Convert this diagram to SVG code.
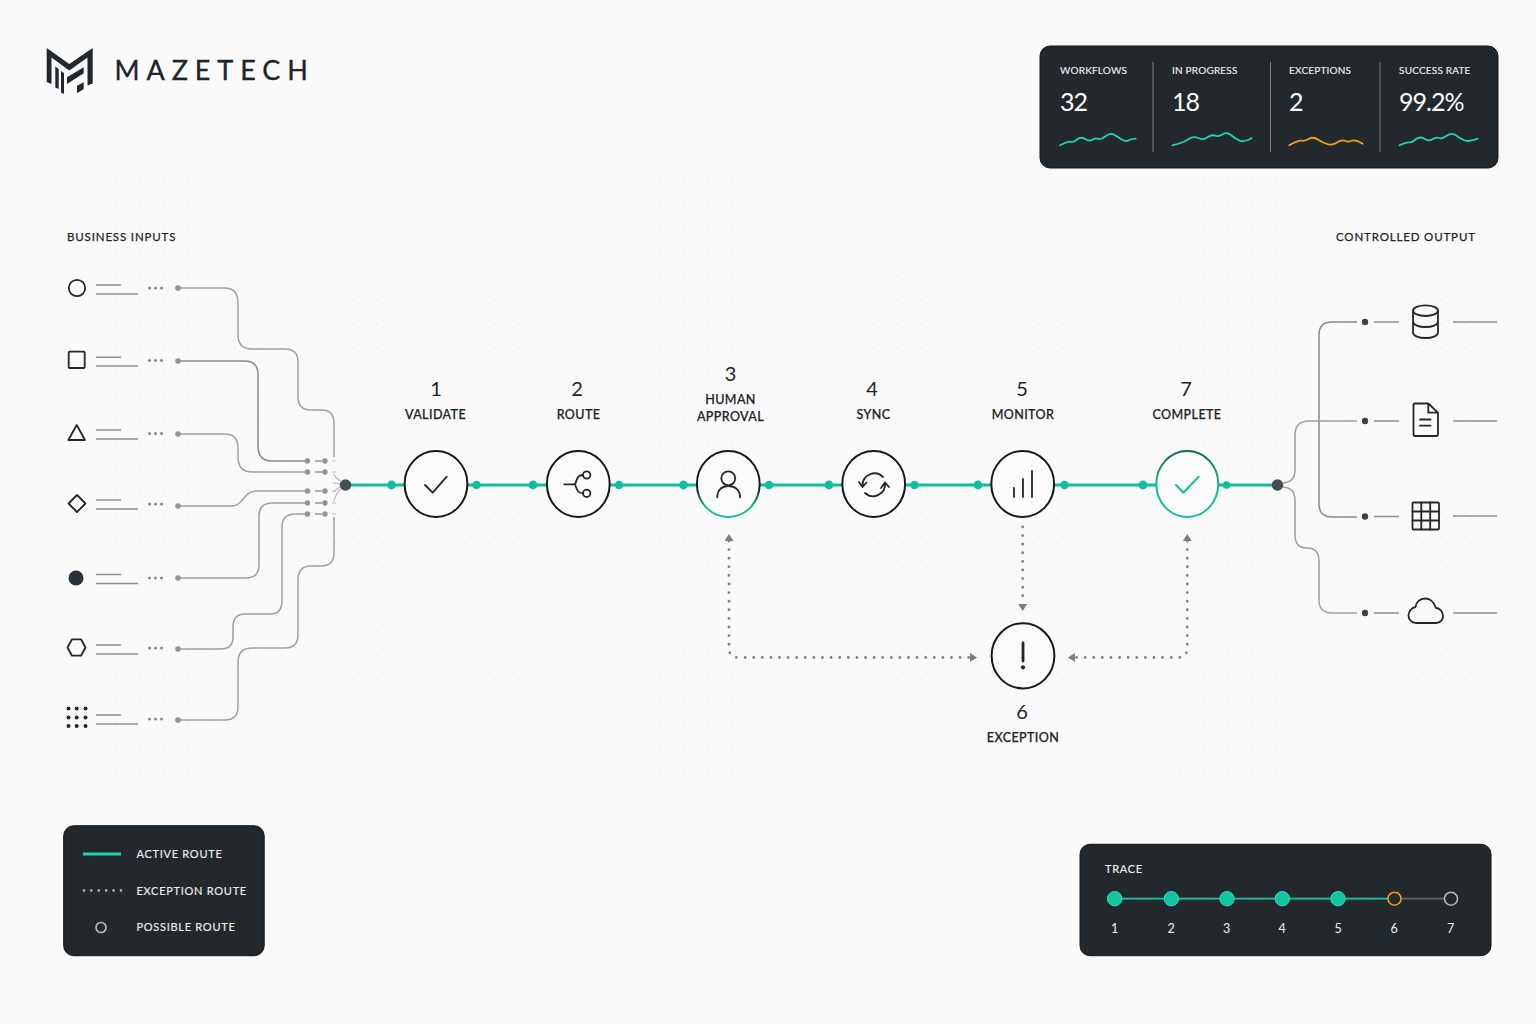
<svg xmlns="http://www.w3.org/2000/svg" width="1536" height="1024" viewBox="0 0 1536 1024">
<defs>
<style>
text{font-family:"Lato","Liberation Sans",sans-serif;fill:#1f2429}
.lab{font-size:12.5px;font-weight:500;letter-spacing:.4px;text-anchor:middle;stroke:#1f2429;stroke-width:.25px}
.num{font-size:20px;text-anchor:middle}
.head{font-size:11.5px;letter-spacing:.85px;stroke:#1f2429;stroke-width:.25px}
.pl{font-size:10px;fill:#eceeef;letter-spacing:.2px;stroke:#eceeef;stroke-width:.15px}
.pv{font-size:25px;fill:#fff;letter-spacing:-1px}
.ll{font-size:11px;fill:#eceeef;letter-spacing:.72px;stroke:#eceeef;stroke-width:.15px}
.tn{font-size:12.5px;fill:#f0f1f1;text-anchor:middle}
.panel{fill:#23282c;stroke:#14171a;stroke-width:1}
.div{stroke:#7c8084;stroke-width:1}
.spark{fill:none;stroke:#1fd4b4;stroke-width:1.8;stroke-linecap:round;stroke-linejoin:round}
.route{fill:none;stroke:#a0a0a0;stroke-width:1.5}
.rdark{fill:none;stroke:#8a8a8a;stroke-width:1.5}
.stub{stroke:#999;stroke-width:1.3}
.faint{fill:none;stroke:#bcbcbc;stroke-width:1.2}
.rd{fill:#949494}
.od{fill:#3a4047}
.ol{stroke:#8e8e8e;stroke-width:1.5}
.tl{stroke:#8e8e8e;stroke-width:1.5}
.tiny{fill:#8a8a8a}
.active{stroke:#0fbf9c;stroke-width:3;fill:none}
.ad{fill:#0fbf9c}
.exc{fill:none;stroke:#858585;stroke-width:2.9;stroke-linecap:round;stroke-dasharray:0 8.6}
.nc{fill:#fbfbfb;stroke:#15181b;stroke-width:2}
.ic{fill:none;stroke:#23272b;stroke-width:1.8;stroke-linecap:round;stroke-linejoin:round}
.shape{fill:none;stroke:#22272c;stroke-width:1.8;stroke-linejoin:round}
.td{fill:#13c4a2;stroke:#2fe0c0;stroke-width:1}
</style>
<pattern id="grid" x="68.5" y="181.4" width="23.65" height="23.65" patternUnits="userSpaceOnUse"><circle cx="0.8" cy="0.8" r="0.8" fill="#e6e6e6"/></pattern>
<marker id="arr" viewBox="0 0 7 9" refX="0" refY="4.5" markerUnits="userSpaceOnUse" markerWidth="7" markerHeight="9" orient="auto-start-reverse"><path d="M0 0L7 4.5L0 9Z" fill="#7d7d7d"/></marker>
<linearGradient id="g3" x1="0" y1="0" x2="0" y2="1"><stop offset="0.55" stop-color="#15181b"/><stop offset="0.85" stop-color="#12bf9c"/></linearGradient>
<linearGradient id="g7" x1="0" y1="0" x2="0" y2="1"><stop offset="0" stop-color="#15664f"/><stop offset="0.55" stop-color="#10bf9b"/></linearGradient>
</defs>
<rect width="1536" height="1024" fill="#fafafa"/>
<rect x="66" y="180" width="1420" height="610" fill="url(#grid)"/>

<g id="logo">
<path fill="#23282e" d="M46.7 48L69.3 64L92.7 48V83.5L87.5 85.5V57.5L69.3 70.5L51.5 57.5V84L46.7 82Z"/>
<path fill="#23282e" d="M55.3 66.5L58.7 69V89L55.3 87.5ZM61 71L64 73V94L61 92.5ZM67 77.3L83.7 67.3V73.3L67 84ZM77 85.7L83.7 82.3V89L77 93.3Z"/>
<text x="114.5" y="80" style="font-size:27px;letter-spacing:6.9px;stroke:#1f2429;stroke-width:.35px">MAZETECH</text>
</g>

<g id="stats">
<rect class="panel" x="1040" y="46" width="458" height="122" rx="10"/>
<line class="div" x1="1153" y1="62" x2="1153" y2="152"/>
<line class="div" x1="1270.5" y1="62" x2="1270.5" y2="152"/>
<line class="div" x1="1380" y1="62" x2="1380" y2="152"/>
<text class="pl" x="1060" y="73.7">WORKFLOWS</text>
<text class="pl" x="1172" y="73.7">IN PROGRESS</text>
<text class="pl" x="1289" y="73.7">EXCEPTIONS</text>
<text class="pl" x="1399" y="73.7">SUCCESS RATE</text>
<text class="pv" x="1060" y="111">32</text>
<text class="pv" x="1172" y="111">18</text>
<text class="pv" x="1289" y="111">2</text>
<text class="pv" x="1399" y="111">99.2%</text>
<path class="spark" d="M1060 145.3Q1068.3 140.7 1070.8 141.7Q1073.3 142.7 1077 139.5Q1080.7 136.3 1085 139Q1089.3 141.7 1092.5 139.7Q1095.7 137.7 1098.3 138.9Q1101 140 1105.5 136.2Q1110 132.3 1114.2 134.8Q1118.3 137.3 1122.2 139.7Q1126 142 1128.9 140.3Q1131.7 138.7 1135.7 138.7"/>
<path class="spark" d="M1172.3 145.3Q1183.3 142.7 1188.3 139.2Q1193.3 135.7 1198.3 138Q1203.3 140.3 1207.5 137.3Q1211.7 134.3 1215.2 135.7Q1218.7 137 1222.7 134.3Q1226.7 131.7 1230.8 135Q1235 138.3 1239.2 140.5Q1243.3 142.7 1251.7 138.3"/>
<path class="spark" style="stroke:#f0a01e" d="M1289.3 145.3Q1298.3 140 1301.7 140.7Q1305 141.3 1309.2 138.8Q1313.3 136.3 1318.3 139.8Q1323.3 143.3 1328.3 144.3Q1333.3 145.3 1337.5 142.3Q1341.7 139.3 1345 140.8Q1348.3 142.3 1351.7 140.8Q1355 139.3 1362.7 143.7"/>
<path class="spark" d="M1399.3 145.3Q1406.7 142 1409.2 142.3Q1411.7 142.7 1415.8 139.3Q1420 136 1424.2 138.8Q1428.3 141.7 1432.2 139.2Q1436 136.7 1438.8 138Q1441.7 139.3 1446.7 135.8Q1451.7 132.3 1455.8 135.3Q1460 138.3 1464.2 140.3Q1468.3 142.3 1477.7 138.7"/>
</g>

<text class="head" x="67" y="240.5">BUSINESS INPUTS</text>
<text class="head" x="1336" y="240.5">CONTROLLED OUTPUT</text>

<g id="connectors">
<g id="input-routes">
<path class="route" d="M178 288H225Q238 288 238 303V335Q238 349 252 349H285Q298 349 298 362V397Q298 410 311 410H322Q334 410 334 423V457"/>
<path class="rdark" d="M178 361H245Q258 361 258 375V446Q258 461 272 461H307"/>
<path class="route" d="M178 434H225Q238 434 238 448V457Q238 472 252 472H307"/>
<path class="route" d="M178 506H232C243 506 244 491 256 491H307"/>
<path class="route" d="M178 578H246Q259 578 259 565V516Q259 503 272 503H307"/>
<path class="route" d="M178 649H221Q233 649 233 637V627Q233 614 245 614H270Q282 614 282 601V527Q282 514 295 514H307"/>
<path class="route" d="M178 720H225Q238 720 238 707V662Q238 648 252 648H285Q298 648 298 635V580Q298 566 311 566H321Q334 566 334 553V517"/>
<path class="faint" d="M334 474Q335 478 341 481M333 483Q337 483 340 484M333 492Q337 489 340 487M334 501Q336 493 341 489"/>
</g>
<g id="stubs">
<path class="stub" d="M315 461H322M315 472H322M315 491H322M315 503H322M315 514H322"/>
<path class="faint" d="M332 461H336M332 472H336M332 491H336M332 503H336M332 514H336"/>
</g>
<g class="rd">
<circle cx="178" cy="288" r="2.8"/><circle cx="178" cy="361" r="2.8"/><circle cx="178" cy="434" r="2.8"/><circle cx="178" cy="506" r="2.8"/><circle cx="178" cy="578" r="2.8"/><circle cx="178" cy="649" r="2.8"/><circle cx="178" cy="720" r="2.8"/>
<circle cx="307.5" cy="461" r="2.7"/><circle cx="307.5" cy="472" r="2.7"/><circle cx="307.5" cy="491" r="2.7"/><circle cx="307.5" cy="503" r="2.7"/><circle cx="307.5" cy="514" r="2.7"/>
<circle cx="325" cy="461" r="2.7"/><circle cx="325" cy="472" r="2.7"/><circle cx="325" cy="491" r="2.7"/><circle cx="325" cy="503" r="2.7"/><circle cx="325" cy="514" r="2.7"/>
</g>
<g id="active-route">
<path class="active" d="M346 485H1278"/>
<g class="ad"><circle cx="391.5" cy="485" r="4.4"/><circle cx="476.5" cy="485" r="4.2"/><circle cx="533" cy="485" r="4.4"/><circle cx="619" cy="485" r="4.2"/><circle cx="683.5" cy="485" r="4.4"/><circle cx="769" cy="485" r="4.2"/><circle cx="829" cy="485" r="4.4"/><circle cx="914.5" cy="485" r="4.2"/><circle cx="978" cy="485" r="4.4"/><circle cx="1064.5" cy="485" r="4.2"/><circle cx="1143" cy="485" r="4.4"/><circle cx="1226.5" cy="485" r="3.8"/></g>
</g>
<g id="exception-routes">
<path class="exc" marker-start="url(#arr)" marker-end="url(#arr)" d="M729 541V648Q729 657.5 738 657.5H970"/>
<path class="exc" marker-end="url(#arr)" d="M1022.7 527V604"/>
<path class="exc" marker-start="url(#arr)" marker-end="url(#arr)" d="M1187.3 541V648Q1187.3 657.5 1178 657.5H1075"/>
</g>
<g id="output-routes">
<path class="rdark" d="M1357 322H1332Q1319 322 1319 335V504Q1319 517 1332 517H1357"/>
<path class="route" d="M1283 483Q1295 482 1295 470V435Q1295 421 1309 421H1357"/>
<path class="route" d="M1283 487Q1295 488 1295 500V535Q1295 548 1307 548Q1319 548 1319 561V600Q1319 613 1332 613H1357"/>
<path class="ol" d="M1374 322H1399M1374 421H1399M1374 516.5H1399M1374 613H1399M1453 322H1497M1453 421H1497M1453 516H1497M1453 613H1497"/>
<g class="od"><circle cx="1365" cy="322" r="3.2"/><circle cx="1365" cy="421" r="3.2"/><circle cx="1365" cy="516.5" r="3.2"/><circle cx="1365" cy="613" r="3.2"/></g>
</g>
</g>
<circle id="hub-in" cx="345.5" cy="485" r="5.8" fill="#474c51"/>
<circle id="hub-out" cx="1277.5" cy="485" r="5.8" fill="#474c51"/>

<g id="inputs">
<g id="input-1"><circle class="shape" cx="77" cy="288" r="8.2"/><path class="tl" d="M96 285H121M96 294H138"/><g class="tiny"><circle cx="149.5" cy="288" r="1.5"/><circle cx="155.5" cy="288" r="1.5"/><circle cx="161.5" cy="288" r="1.5"/></g></g>
<g id="input-2"><rect class="shape" x="68.7" y="351.7" width="16" height="16.3" rx="1"/><path class="tl" d="M96 357.3H121M96 366H138"/><g class="tiny"><circle cx="149.5" cy="360.5" r="1.5"/><circle cx="155.5" cy="360.5" r="1.5"/><circle cx="161.5" cy="360.5" r="1.5"/></g></g>
<g id="input-3"><path class="shape" d="M76.7 425L85 440H68.3Z"/><path class="tl" d="M96 430H121M96 439H138"/><g class="tiny"><circle cx="149.5" cy="433.5" r="1.5"/><circle cx="155.5" cy="433.5" r="1.5"/><circle cx="161.5" cy="433.5" r="1.5"/></g></g>
<g id="input-4"><path class="shape" d="M77 495L85.5 503.5L77 512L68.5 503.5Z"/><path class="tl" d="M96 500H121M96 509H138"/><g class="tiny"><circle cx="149.5" cy="504" r="1.5"/><circle cx="155.5" cy="504" r="1.5"/><circle cx="161.5" cy="504" r="1.5"/></g></g>
<g id="input-5"><circle cx="76" cy="578" r="7.5" fill="#2b3138"/><path class="tl" d="M96 574.5H121M96 583.5H138"/><g class="tiny"><circle cx="149.5" cy="578" r="1.5"/><circle cx="155.5" cy="578" r="1.5"/><circle cx="161.5" cy="578" r="1.5"/></g></g>
<g id="input-6"><path class="shape" d="M72 639.3H81L85.5 647.5L81 655.7H72L67.5 647.5Z"/><path class="tl" d="M96 645H121M96 654H138"/><g class="tiny"><circle cx="149.5" cy="648" r="1.5"/><circle cx="155.5" cy="648" r="1.5"/><circle cx="161.5" cy="648" r="1.5"/></g></g>
<g id="input-7"><g fill="#22272c"><circle cx="68.5" cy="708.5" r="2"/><circle cx="76.7" cy="708.5" r="2"/><circle cx="85.5" cy="708.5" r="2"/><circle cx="68.5" cy="717.5" r="2"/><circle cx="76.7" cy="717.5" r="2"/><circle cx="85.5" cy="717.5" r="2"/><circle cx="68.5" cy="726" r="2"/><circle cx="76.7" cy="726" r="2"/><circle cx="85.5" cy="726" r="2"/></g><path class="tl" d="M96 715H121M96 724H138"/><g class="tiny"><circle cx="149.5" cy="719" r="1.5"/><circle cx="155.5" cy="719" r="1.5"/><circle cx="161.5" cy="719" r="1.5"/></g></g>
</g>

<g id="node-1"><ellipse class="nc" cx="436" cy="484" rx="31.4" ry="33"/><path class="ic" d="M425 485L432.7 492.7L446.7 476.7"/><text class="num" x="436" y="395.5">1</text><text class="lab" x="435.5" y="418.5">VALIDATE</text></g>
<g id="node-2"><ellipse class="nc" cx="578.3" cy="484" rx="31.4" ry="33"/><path class="ic" d="M564.3 484.3H575M583 475C577 475 577 480 575 484.3C577 489 577 493.3 583 493.3"/><circle class="ic" cx="586.7" cy="475" r="3.7"/><circle class="ic" cx="586.7" cy="493.3" r="3.7"/><text class="num" x="577" y="395.5">2</text><text class="lab" x="578.5" y="418.5">ROUTE</text></g>
<g id="node-3"><ellipse class="nc" style="stroke:url(#g3)" cx="728.3" cy="484" rx="31.4" ry="33"/><circle class="ic" cx="728.3" cy="478.3" r="7"/><path class="ic" d="M717.3 497.3C717.3 490 722 486 728.3 486C735 486 740 490 740 497.3"/><text class="num" x="730.5" y="381">3</text><text class="lab" x="730.5" y="404">HUMAN</text><text class="lab" x="730.5" y="421">APPROVAL</text></g>
<g id="node-4"><ellipse class="nc" cx="873.7" cy="484" rx="31.4" ry="33"/><path class="ic" d="M862.5 486A12 12 0 0 1 883 477M885 483A12 12 0 0 1 865 493M859 482L862.5 487L866.5 482.5M881 488L885 482.5L889 487"/><text class="num" x="872" y="395.5">4</text><text class="lab" x="873.5" y="418.5">SYNC</text></g>
<g id="node-5"><ellipse class="nc" cx="1022.7" cy="484" rx="31.4" ry="33"/><path class="ic" d="M1014 488V497M1023 479V497M1032 471V497"/><text class="num" x="1022" y="395.5">5</text><text class="lab" x="1023" y="418.5">MONITOR</text></g>
<g id="node-7"><ellipse class="nc" style="stroke:url(#g7)" cx="1187.3" cy="484" rx="31" ry="33"/><path class="ic" style="stroke:#10bf9b;stroke-width:2" d="M1176 485L1183.3 492.7L1198.7 476.7"/><text class="num" x="1186" y="395.5">7</text><text class="lab" x="1187" y="418.5">COMPLETE</text></g>
<g id="node-6"><ellipse class="nc" cx="1023" cy="655.8" rx="31.4" ry="32.6"/><path class="ic" style="stroke-width:2.8" d="M1023 643V661"/><circle cx="1023" cy="667.3" r="2.1" fill="#23272b"/><text class="num" x="1022" y="718.5">6</text><text class="lab" x="1023" y="741.5">EXCEPTION</text></g>

<g id="outputs">
<g id="output-db" class="ic"><ellipse cx="1425.5" cy="310.7" rx="12.5" ry="5.3"/><path d="M1413 310.7V332.5C1413 336 1419 338 1425.5 338C1432 338 1438 336 1438 332.5V310.7M1413 321.5C1413 325 1419 327 1425.5 327C1432 327 1438 325 1438 321.5"/></g>
<g id="output-doc" class="ic"><path d="M1415 403.5H1428.3L1438 412.7V434C1438 435.3 1437 436 1436 436H1415C1414 436 1413.5 435.3 1413.5 434V405C1413.5 404 1414 403.5 1415 403.5ZM1428.3 403.5V412.7H1438M1420 419.5H1430.5M1420 425.7H1430.5"/></g>
<g id="output-grid" class="ic"><rect x="1412.5" y="502.5" width="26.5" height="27" rx="1"/><path d="M1421.3 502.5V529.5M1430.2 502.5V529.5M1412.5 511.5H1439M1412.5 520.5H1439"/></g>
<g id="output-cloud" class="ic"><path d="M1416 623H1436C1441 623 1443 619 1443 616C1443 611 1439 608 1436 608C1434 601 1429 598.5 1425 598.5C1420 598.5 1416 602 1415.5 607C1411 608 1408.5 612 1408.5 615.5C1408.5 620 1412 623 1416 623Z"/></g>
</g>

<g id="legend">
<rect class="panel" x="63.7" y="825.7" width="200.5" height="130" rx="10"/>
<line x1="83" y1="854" x2="121" y2="854" stroke="#1fd4b4" stroke-width="3"/>
<path d="M84 890.5H121.5" stroke="#a3a6a8" stroke-width="2.8" stroke-linecap="round" stroke-dasharray="0 7.4" fill="none"/>
<circle cx="101" cy="927.5" r="5" fill="none" stroke="#b4b7b9" stroke-width="1.7"/>
<text class="ll" x="136.5" y="858">ACTIVE ROUTE</text>
<text class="ll" x="136.5" y="894.5">EXCEPTION ROUTE</text>
<text class="ll" x="136.5" y="931">POSSIBLE ROUTE</text>
</g>

<g id="trace">
<rect class="panel" x="1080" y="844.3" width="411" height="111.4" rx="10"/>
<text class="ll" x="1105" y="872.5">TRACE</text>
<line x1="1114.7" y1="898.7" x2="1394.5" y2="898.7" stroke="#17c9a8" stroke-width="1.8"/>
<line x1="1394.5" y1="898.7" x2="1451" y2="898.7" stroke="#5e6164" stroke-width="1.8"/>
<circle class="td" cx="1114.7" cy="898.7" r="7.2"/><circle class="td" cx="1171.3" cy="898.7" r="7.2"/><circle class="td" cx="1227" cy="898.7" r="7.2"/><circle class="td" cx="1282.3" cy="898.7" r="7.2"/><circle class="td" cx="1338" cy="898.7" r="7.2"/>
<circle cx="1394.5" cy="898.7" r="6.5" fill="#23282c" stroke="#ee9c1c" stroke-width="1.6"/>
<circle cx="1451" cy="898.7" r="6.5" fill="#23282c" stroke="#b4b7b9" stroke-width="1.6"/>
<text class="tn" x="1114.5" y="933">1</text><text class="tn" x="1171" y="933">2</text><text class="tn" x="1226.5" y="933">3</text><text class="tn" x="1282" y="933">4</text><text class="tn" x="1338" y="933">5</text><text class="tn" x="1394" y="933">6</text><text class="tn" x="1450.5" y="933">7</text>
</g>
</svg>
